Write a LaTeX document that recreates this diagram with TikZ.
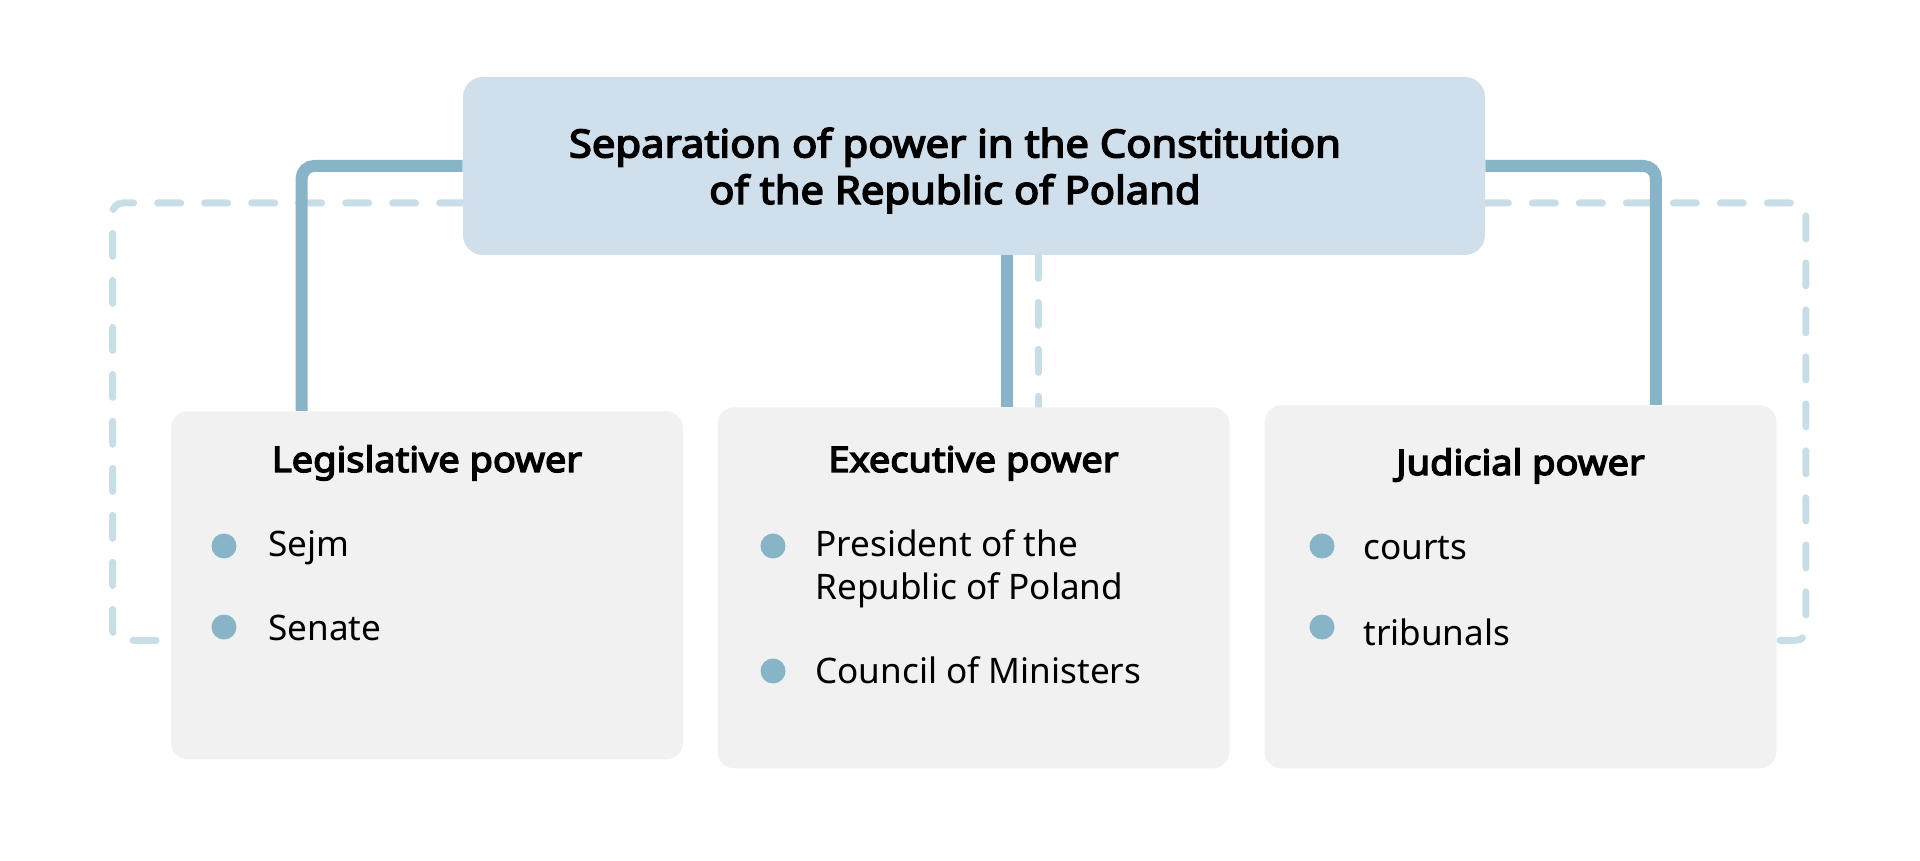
\documentclass[tikz,border=0pt]{standalone}
\usepackage{fontspec}
\setmainfont{Noto Sans}[BoldFont={Noto Sans}, BoldFeatures={FakeBold=4, FakeStretch=1.08}]
\usetikzlibrary{backgrounds}

\definecolor{topblue}{RGB}{207,224,236}
\definecolor{boxgrey}{RGB}{241,241,241}
\definecolor{linkblue}{RGB}{136,180,199}
\definecolor{dashblue}{RGB}{200,222,230}

\tikzset{
	topbox/.style={fill=topblue, rounded corners=0.4cm, inner sep=0pt, minimum width=20.44cm, minimum height=3.56cm},
	powerbox/.style={fill=boxgrey, rounded corners=0.34cm, inner sep=0pt, anchor=north, minimum width=10.24cm},
	titletext/.style={align=center, inner sep=0pt, font=\bfseries\fontsize{22}{26.5}\selectfont},
	headtext/.style={anchor=base, inner sep=0pt, font=\bfseries\fontsize{20}{24}\selectfont},
	itemtext/.style={anchor=base west, align=left, inner sep=0pt, font=\fontsize{20}{24}\selectfont},
	dot/.style={circle, fill=linkblue, inner sep=0pt, minimum size=0.5cm},
	link/.style={draw=linkblue, line width=0.24cm, rounded corners=0.25cm},
	dashlink/.style={draw=dashblue, line width=0.14cm, line cap=round, dash pattern=on 0.46cm off 0.48cm, rounded corners=0.2cm}
}

\begin{document}
\begin{tikzpicture}
		\useasboundingbox (0,0) rectangle (38.4,17.2);
		% boxes
		\node[topbox] (top) at (19.48,13.88) {};
		\node[titletext] (title) at (19.1,13.79) {Separation of power in the Constitution\\of the Republic of Poland};
		\node[powerbox, minimum height=6.96cm] (leg) at (8.54,8.98) {};
		\node[powerbox, minimum height=7.22cm] (exe) at (19.47,9.06) {};
		\node[powerbox, minimum height=7.26cm] (jud) at (30.41,9.1) {};
		
		% legislative
		\node[headtext] (leghead) at (8.54,7.76) {Legislative power};
		\node[dot] (legdot1) at (4.48,6.28) {};
		\node[itemtext] (sejm) at (5.36,6.06) {Sejm};
		\node[dot] (legdot2) at (4.48,4.66) {};
		\node[itemtext] (senate) at (5.36,4.39) {Senate};
		
		% executive
		\node[headtext] (exehead) at (19.47,7.76) {Executive power};
		\node[dot] (exedot1) at (15.46,6.28) {};
		\node[itemtext] (president) at (16.3,5.22) {President of the\\Republic of Poland};
		\node[dot] (exedot2) at (15.46,3.78) {};
		\node[itemtext] (council) at (16.3,3.54) {Council of Ministers};
		
		% judicial
		\node[headtext] (judhead) at (30.41,7.7) {Judicial power};
		\node[dot] (juddot1) at (26.44,6.28) {};
		\node[itemtext] (courts) at (27.26,6.0) {courts};
		\node[dot] (juddot2) at (26.44,4.66) {};
		\node[itemtext] (tribunals) at (27.26,4.3) {tribunals};
		
		\begin{scope}[on background layer]
		\draw[dashlink] ([yshift=-0.74cm]top.west) -| ([xshift=-1.16cm,yshift=-1.1cm]leg.west) -- ([yshift=-1.1cm]leg.west);
		\draw[dashlink] ([yshift=-0.74cm]top.east) -| ([xshift=0.58cm,yshift=-1.07cm]jud.east) -- ([yshift=-1.07cm]jud.east);
		\draw[dashlink] ([xshift=1.28cm]top.south) -- ([xshift=1.28cm]top.south |- exe.north);
		\draw[link] (top.west) -| ([xshift=2.62cm]leg.north west);
		\draw[link] (top.east) -| ([xshift=-2.42cm]jud.north east);
		\draw[link] ([xshift=0.66cm]top.south) -- ([xshift=0.66cm]top.south |- exe.north);
		\end{scope}
		
	\end{tikzpicture}
\end{document}
